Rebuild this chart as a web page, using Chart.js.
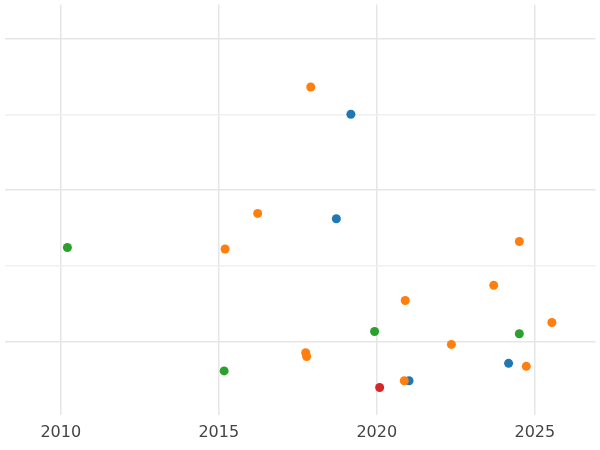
<!DOCTYPE html>
<html>
<head>
<meta charset="utf-8">
<script src="https://cdn.jsdelivr.net/npm/chart.js@4"></script>
<style>
  html, body { margin: 0; padding: 0; background: #fff; }
  #wrap { width: 600px; height: 450px; }
</style>
</head>
<body>
<div id="wrap"><canvas id="c"></canvas></div>
<script>
// 系列データ (x: 年, y: 値)
const orangeX = [2017.91, 2016.23, 2015.2, 2024.51, 2023.70, 2020.90, 2025.54, 2022.36, 2017.75, 2017.78, 2024.73, 2020.87];
const orangeY = [4.36, 2.69, 2.22, 2.32, 1.74, 1.54, 1.25, 0.96, 0.85, 0.80, 0.67, 0.48];
const blueX = [2019.18, 2018.72, 2024.17, 2021.02];
const blueY = [4.0, 2.62, 0.71, 0.48];
const greenX = [2010.21, 2019.93, 2024.51, 2015.17];
const greenY = [2.24, 1.13, 1.10, 0.61];
const redX = [2020.09];
const redY = [0.39];
const xTicks = [2010, 2015, 2020, 2025];

function pts(xs, ys) {
    return xs.map(function(x, i) { return { x: x, y: ys[i] }; });
}

function ds(xs, ys, color) {
    return {
        data: pts(xs, ys),
        backgroundColor: color,
        borderColor: color,
        pointRadius: 4.5,
        pointHoverRadius: 4.5,
        borderWidth: 0
    };
}

new Chart(document.getElementById('c'), {
    type: 'scatter',
    data: {
        datasets: [
            ds(orangeX, orangeY, '#ff7f0e'),
            ds(blueX, blueY, '#1f77b4'),
            ds(greenX, greenY, '#2ca02c'),
            ds(redX, redY, '#d62728')
        ]
    },
    options: {
        responsive: true,
        maintainAspectRatio: false,
        animation: false,
        layout: { padding: 0 },
        plugins: { legend: { display: false }, tooltip: { enabled: false } },
        scales: {
            x: {
                min: 2008.22,
                max: 2026.92,
                afterBuildTicks: function(axis) {
                    axis.ticks = xTicks.map(function(v) { return { value: v }; });
                },
                grid: { color: '#e6e6e6', lineWidth: 1.5, drawTicks: false },
                border: { display: false },
                ticks: {
                    color: '#444',
                    font: { family: 'DejaVu Sans', size: 16 },
                    padding: 8,
                    callback: function(v) { return String(v); }
                }
            },
            y: {
                min: 0.03,
                max: 5.45,
                afterBuildTicks: function(axis) {
                    axis.ticks = [1, 2, 3, 4, 5].map(function(v) { return { value: v }; });
                },
                grid: {
                    color: function(ctx) {
                        return (ctx.tick && ctx.tick.value % 2 === 1) ? '#e6e6e6' : '#f0f0f0';
                    },
                    lineWidth: 1.5,
                    drawTicks: false
                },
                border: { display: false },
                ticks: { display: false }
            }
        }
    }
});
</script>
</body>
</html>
